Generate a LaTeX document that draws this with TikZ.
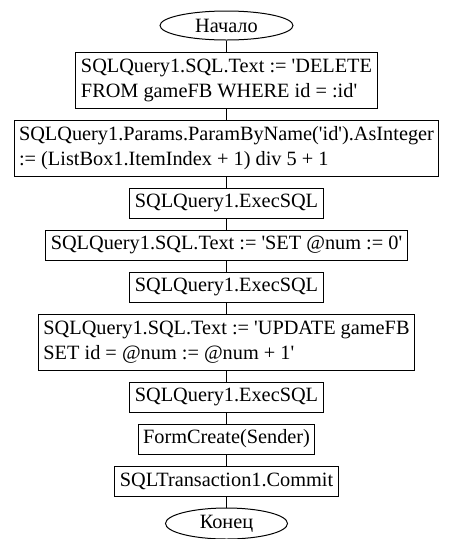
\documentclass[tikz,border=0pt]{standalone}
\usepackage{fontspec}
\setmainfont{Liberation Serif}[Ligatures=TeXOff]
\usepackage{tikz}
\usetikzlibrary{positioning,shapes.geometric}

\begin{document}
\begin{tikzpicture}[x=1pt,y=1pt,node distance=11pt,line width=1pt]
\tikzstyle{txt}=[font=\fontsize{20.3pt}{25pt}\selectfont]
\tikzstyle{term}=[txt,ellipse,draw,inner sep=0pt]
\tikzstyle{op}=[txt,rectangle,draw,inner xsep=5pt,inner ysep=3pt,minimum height=30pt]
\tikzstyle{op2}=[op,align=left,minimum height=56pt]
\useasboundingbox (0,0) rectangle (452,-539);
\node[term,minimum width=133pt,minimum height=29pt] (start) at (226.5,-25.5) {Начало};
\node[op2,below=of start] (del) {SQLQuery1.SQL.Text := 'DELETE\\FROM gameFB WHERE id = :id'};
\node[op2,below=of del] (par) {SQLQuery1.Params.ParamByName('id').AsInteger\\:= (ListBox1.ItemIndex + 1) div 5 + 1};
\node[op,below=of par] (ex1) {SQLQuery1.ExecSQL};
\node[op,below=of ex1] (set) {SQLQuery1.SQL.Text := 'SET @num := 0'};
\node[op,below=of set] (ex2) {SQLQuery1.ExecSQL};
\node[op2,below=of ex2] (upd) {SQLQuery1.SQL.Text := 'UPDATE gameFB\\SET id = @num := @num + 1'};
\node[op,below=of upd] (ex3) {SQLQuery1.ExecSQL};
\node[op,below=of ex3] (form) {FormCreate(Sender)};
\node[op,below=of form] (com) {SQLTransaction1.Commit};
\node[term,minimum width=122pt,minimum height=31pt,below=of com] (stop) {Конец};
\draw (start)--(del);
\draw (del)--(par);
\draw (par)--(ex1);
\draw (ex1)--(set);
\draw (set)--(ex2);
\draw (ex2)--(upd);
\draw (upd)--(ex3);
\draw (ex3)--(form);
\draw (form)--(com);
\draw (com)--(stop);
\end{tikzpicture}
\end{document}
